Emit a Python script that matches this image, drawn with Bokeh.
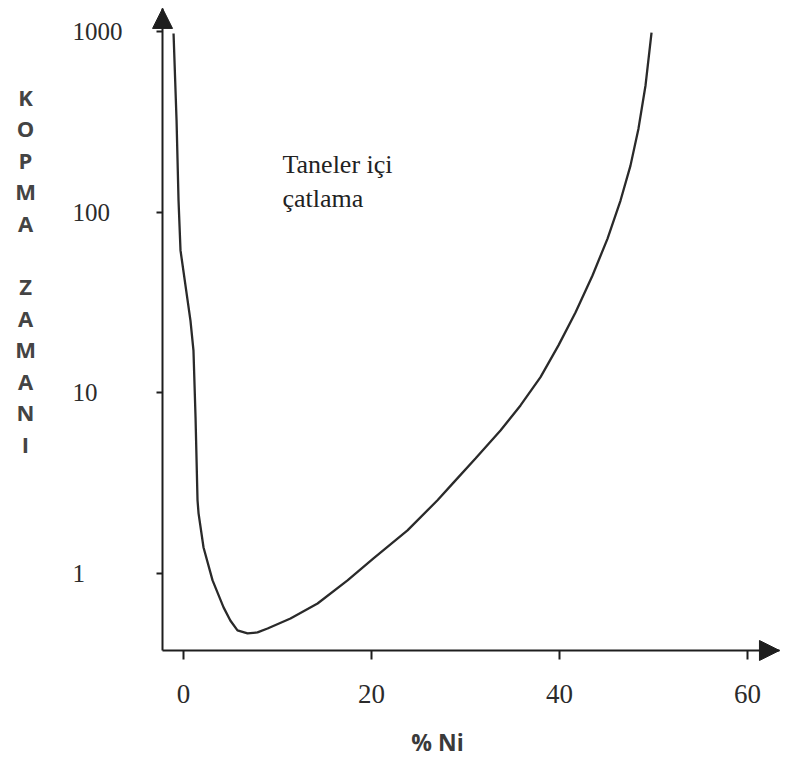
from bokeh.plotting import figure
from bokeh.models import (Arrow, NormalHead, Label, FixedTicker, Range1d,
                          ColumnDataSource, CustomJSTickFormatter)
from bokeh.core.properties import value
from bokeh.embed import file_html
from bokeh.resources import INLINE

# ---- data ----
ni_pct = [-1.06, -0.74, -0.53, -0.32, 0.74, 1.06, 1.28, 1.49, 1.60, 2.13, 3.09,
          4.26, 4.98, 5.74, 6.81, 7.87, 8.94, 11.38, 14.26, 17.45, 20.21, 23.83,
          27.02, 28.72, 31.06, 33.72, 35.85, 37.98, 39.89, 41.70, 43.51, 45.11,
          46.49, 47.55, 48.40, 49.15, 49.79]
kopma_zamani = [975, 322, 116, 61.4, 25.1, 17.1, 7.3, 2.54, 2.15, 1.39, 0.914,
                0.648, 0.548, 0.483, 0.465, 0.471, 0.495, 0.562, 0.681, 0.914, 1.21, 1.73,
                2.54, 3.18, 4.33, 6.18, 8.51, 12.2, 18.3, 27.8, 44.6, 71.4,
                116, 181, 290, 503, 988]
x_ticks = [0, 20, 40, 60]
y_ticks = [1, 10, 100, 1000]
y_tick_labels = ["1", "10", "100", "1000"]
x_label = "% Ni"
y_label = "K\nO\nP\nM\nA\n\nZ\nA\nM\nA\nN\nI"
note = "Taneler içi\nçatlama"

# ---- layout constants ----
W, H = 780, 756
XR = (-19.47, 63.51)        # visible x window
YR = (0.0968, 1486)         # visible y window (log)
X_AXIS_AT = 0.374           # where the Ni axis crosses
Y_AXIS_AT = -2.23           # where the time axis crosses
Y_TOP = 1343                # tip of the vertical arrow
X_END = 63.4                # tip of the horizontal arrow
Y_LABEL_X = -11.8           # left edge of the y tick labels

p = figure(width=W, height=H, x_range=Range1d(*XR), y_range=Range1d(*YR),
           y_axis_type="log", output_backend="svg", toolbar_location=None,
           min_border_left=0, min_border_right=0, min_border_top=0, min_border_bottom=0)
p.grid.visible = False
p.outline_line_color = None
p.background_fill_color = "white"
p.border_fill_color = "white"

axis_col = "#1e1e1e"
for ax in (p.xaxis[0], p.yaxis[0]):
    ax.axis_line_color = axis_col
    ax.axis_line_width = 2
    ax.major_tick_line_color = axis_col
    ax.major_tick_line_width = 2
    ax.minor_tick_line_color = None
    ax.major_tick_in = 0
    ax.major_label_text_font = "Liberation Serif"
    ax.major_label_text_color = "#2b2b2b"

p.xaxis.fixed_location = X_AXIS_AT
p.xaxis.bounds = (Y_AXIS_AT, X_END)
p.xaxis.ticker = FixedTicker(ticks=x_ticks)
p.xaxis.major_tick_out = 9
p.xaxis.major_label_text_font_size = "27px"
p.xaxis.major_label_standoff = 26

p.yaxis.fixed_location = Y_AXIS_AT
p.yaxis.bounds = (X_AXIS_AT, Y_TOP)
p.yaxis.ticker = FixedTicker(ticks=y_ticks)
p.yaxis.major_tick_out = 6
p.yaxis.formatter = CustomJSTickFormatter(code="return ''")

# left-aligned y tick labels, placed through the scales
src = ColumnDataSource(dict(x=[Y_LABEL_X] * len(y_ticks), y=y_ticks, t=y_tick_labels))
p.text(x="x", y="y", text="t", source=src, text_font=value("Liberation Serif"),
       text_font_size="25px", text_color="#2b2b2b", text_align="left",
       text_baseline="middle")

p.line(ni_pct, kopma_zamani, line_color="#2a2a2a", line_width=2.3)

head = dict(size=20, fill_color=axis_col, line_color=axis_col)
p.add_layout(Arrow(end=NormalHead(**head), x_start=Y_AXIS_AT, y_start=X_AXIS_AT,
                   x_end=Y_AXIS_AT, y_end=Y_TOP, line_alpha=0))
p.add_layout(Arrow(end=NormalHead(**head), x_start=Y_AXIS_AT, y_start=X_AXIS_AT,
                   x_end=X_END, y_end=X_AXIS_AT, line_alpha=0))

p.add_layout(Label(x=282, y=H - 149, x_units="screen", y_units="screen", text=note,
                   text_font="Liberation Serif", text_font_size="26px", text_color="#222222",
                   text_baseline="top", text_align="left"))
p.add_layout(Label(x=437, y=H - 741, x_units="screen", y_units="screen", text=x_label,
                   text_font="Open Sans", text_font_style="bold", text_font_size="23px",
                   text_color="#3a3a3a", text_baseline="middle", text_align="center"))
p.add_layout(Label(x=25, y=H - 81, x_units="screen", y_units="screen", text=y_label,
                   text_font="Open Sans", text_font_style="bold", text_font_size="22px",
                   text_color="#444444", text_baseline="top", text_align="center",
                   text_line_height=1.053))

open("out.html", "w").write(file_html(p, INLINE))
